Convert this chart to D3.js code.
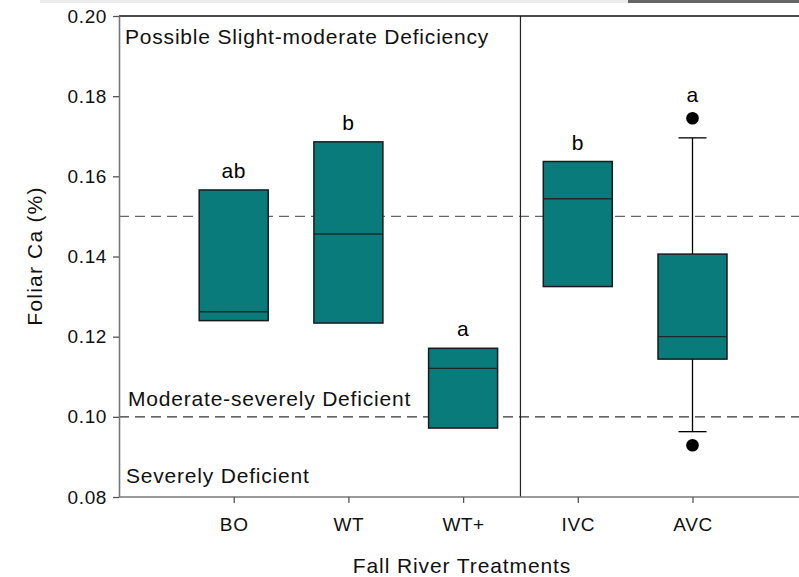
<!DOCTYPE html>
<html>
<head>
<meta charset="utf-8">
<script src="https://cdn.jsdelivr.net/npm/d3@7"></script>
<style>
  body { margin: 0; background: #fff; }
  text { font-family: Arial, "Liberation Sans", sans-serif; }
</style>
</head>
<body>
<div id="chart"></div>
<script>
// treatments, box stats (q1, median, q3), whiskers and outliers
var treatments = ["BO", "WT", "WT+", "IVC", "AVC"];
var q1 = [0.1240, 0.1234, 0.0972, 0.1325, 0.1144];
var median = [0.1262, 0.1456, 0.1121, 0.1544, 0.1200];
var q3 = [0.1566, 0.1686, 0.1171, 0.1637, 0.1406];
var whiskerLow = [null, null, null, null, 0.0963];
var whiskerHigh = [null, null, null, null, 0.1696];
var outliers = [[], [], [], [], [0.1745, 0.0929]];
var letters = ["ab", "b", "a", "b", "a"];
var yTicks = [0.08, 0.10, 0.12, 0.14, 0.16, 0.18, 0.20];
var refLines = [0.15, 0.10];

var W = 799, H = 577;
var margin = { top: 16, left: 119, bottom: 80 };
var height = H - margin.top - margin.bottom;

var svg = d3.select("#chart")
    .append("svg")
    .attr("width", W)
    .attr("height", H);

// strip at the very top of the screenshot
svg.append("rect").attr("x", 40).attr("y", 0).attr("width", 588).attr("height", 3).attr("fill", "#ececec");
svg.append("rect").attr("x", 628).attr("y", 0).attr("width", W - 628).attr("height", 3).attr("fill", "#666");

var g = svg.append("g")
    .attr("transform", "translate(" + margin.left + "," + margin.top + ")");

var x = d3.scaleLinear()
    .domain([0, 6])
    .range([0, 6 * 114.7]);

var y = d3.scaleLinear()
    .domain([0.08, 0.20])
    .range([height, 0]);

var boxW = 69;

// reference lines
g.selectAll(".ref")
    .data(refLines)
    .enter()
    .append("line")
    .attr("x1", 0)
    .attr("x2", W)
    .attr("y1", function(d) { return y(d); })
    .attr("y2", function(d) { return y(d); })
    .attr("stroke", function(d, i) { return i == 0 ? "#666" : "#333"; })
    .attr("stroke-width", 1.3)
    .attr("stroke-dasharray", "10,6");

// divider between groups
g.append("line")
    .attr("x1", x(3.5)).attr("x2", x(3.5))
    .attr("y1", 0).attr("y2", height)
    .attr("stroke", "#222").attr("stroke-width", 1.2);

// top border
g.append("line")
    .attr("x1", 0).attr("x2", W)
    .attr("y1", 0).attr("y2", 0)
    .attr("stroke", "#111").attr("stroke-width", 1.6);

var boxes = g.selectAll(".box")
    .data(treatments)
    .enter()
    .append("g")
    .attr("class", "box");

// whiskers
boxes.each(function(d, i) {
    var sel = d3.select(this);
    var cx = x(i + 1);
    if (whiskerHigh[i] != null) {
        sel.append("line").attr("x1", cx).attr("x2", cx)
            .attr("y1", y(q3[i])).attr("y2", y(whiskerHigh[i]))
            .attr("stroke", "#000").attr("stroke-width", 1.3);
        sel.append("line").attr("x1", cx - 14).attr("x2", cx + 14)
            .attr("y1", y(whiskerHigh[i])).attr("y2", y(whiskerHigh[i]))
            .attr("stroke", "#000").attr("stroke-width", 1.3);
    }
    if (whiskerLow[i] != null) {
        sel.append("line").attr("x1", cx).attr("x2", cx)
            .attr("y1", y(q1[i])).attr("y2", y(whiskerLow[i]))
            .attr("stroke", "#000").attr("stroke-width", 1.3);
        sel.append("line").attr("x1", cx - 14).attr("x2", cx + 14)
            .attr("y1", y(whiskerLow[i])).attr("y2", y(whiskerLow[i]))
            .attr("stroke", "#000").attr("stroke-width", 1.3);
    }
});

boxes.append("rect")
    .attr("x", function(d, i) { return x(i + 1) - boxW / 2; })
    .attr("y", function(d, i) { return y(q3[i]); })
    .attr("width", boxW)
    .attr("height", function(d, i) { return y(q1[i]) - y(q3[i]); })
    .attr("fill", "#0a7b7b")
    .attr("stroke", "#1a1a1a")
    .attr("stroke-width", 1.5);

boxes.append("line")
    .attr("x1", function(d, i) { return x(i + 1) - boxW / 2; })
    .attr("x2", function(d, i) { return x(i + 1) + boxW / 2; })
    .attr("y1", function(d, i) { return y(median[i]); })
    .attr("y2", function(d, i) { return y(median[i]); })
    .attr("stroke", "#1a2a2a")
    .attr("stroke-width", 1.4);

boxes.each(function(d, i) {
    d3.select(this).selectAll("circle")
        .data(outliers[i])
        .enter()
        .append("circle")
        .attr("cx", x(i + 1))
        .attr("cy", function(v) { return y(v); })
        .attr("r", 6.3)
        .attr("fill", "#000");
});

// significance letters
boxes.append("text")
    .attr("x", function(d, i) { return x(i + 1); })
    .attr("y", function(d, i) {
        var top = whiskerHigh[i] != null ? d3.max(outliers[i].concat([whiskerHigh[i]])) : q3[i];
        return y(top) - (outliers[i].length ? 16 : 12);
    })
    .attr("text-anchor", "middle")
    .style("font-size", "21px")
    .style("letter-spacing", "0.5px")
    .text(function(d, i) { return letters[i]; });

// axes
var yAxis = g.append("g")
    .call(d3.axisLeft(y).tickValues(yTicks).tickFormat(d3.format(".2f")).tickSize(6).tickSizeOuter(0));
var xAxis = g.append("g")
    .attr("transform", "translate(0," + height + ")")
    .call(d3.axisBottom(x).tickValues([1, 2, 3, 4, 5])
        .tickFormat(function(d) { return treatments[d - 1]; })
        .tickSize(6).tickSizeOuter(0));

[yAxis, xAxis].forEach(function(a) {
    a.select(".domain").attr("stroke", "#777").attr("stroke-width", 1.6);
    a.selectAll(".tick line").attr("stroke", "#555").attr("stroke-width", 1.3);
    a.selectAll(".tick text").style("font-size", "19px").attr("fill", "#111")
        .style("letter-spacing", "0.6px")
        .style("font-family", "Arial, 'Liberation Sans', sans-serif");
});
yAxis.selectAll(".tick text").attr("x", -12);
xAxis.selectAll(".tick text").attr("y", 21);
xAxis.select(".domain").attr("d", "M0,0H" + (W - margin.left));

// zone labels
var zones = [
    { text: "Possible Slight-moderate Deficiency", x: 6, y: 28 },
    { text: "Moderate-severely Deficient", x: 9, y: 390 },
    { text: "Severely Deficient", x: 7, y: 467 }
];
g.selectAll(".zone")
    .data(zones)
    .enter()
    .append("text")
    .attr("x", function(d) { return d.x; })
    .attr("y", function(d) { return d.y; })
    .style("font-size", "21px")
    .style("letter-spacing", "0.8px")
    .attr("fill", "#111")
    .text(function(d) { return d.text; });

// axis titles
svg.append("text")
    .attr("transform", "translate(42,256) rotate(-90)")
    .attr("text-anchor", "middle")
    .style("font-size", "21px")
    .style("letter-spacing", "1.2px")
    .attr("fill", "#111")
    .text("Foliar Ca (%)");

svg.append("text")
    .attr("x", 462)
    .attr("y", 573)
    .attr("text-anchor", "middle")
    .style("font-size", "21px")
    .style("letter-spacing", "0.9px")
    .attr("fill", "#111")
    .text("Fall River Treatments");
</script>
</body>
</html>
